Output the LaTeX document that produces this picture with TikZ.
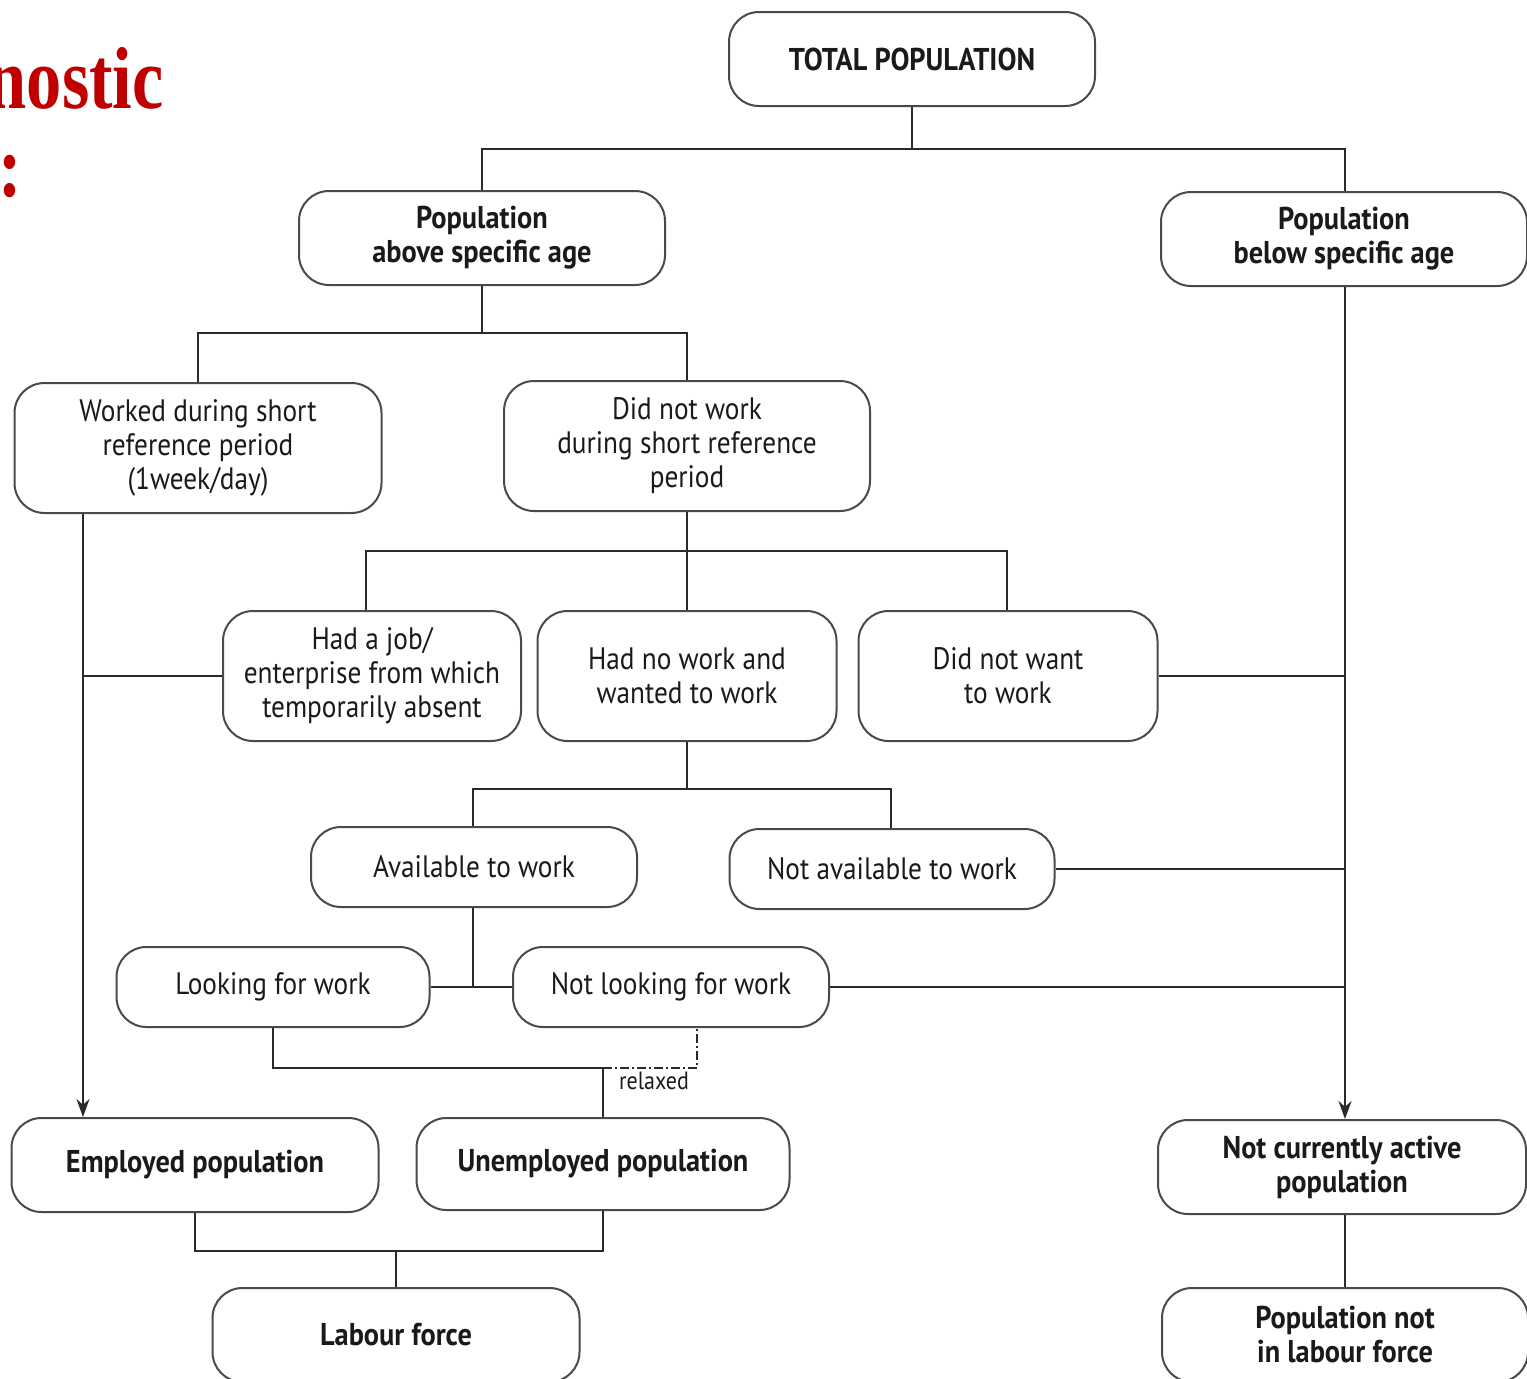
\documentclass[tikz,border=0pt]{standalone}
\usepackage{fontspec}
\setmainfont{PT Sans}[FakeStretch=0.88]
\newfontfamily\boldfam{PT Sans Bold}[FakeStretch=0.9]
\newfontfamily\redserif{Liberation Serif Bold}[FakeStretch=0.8]
\usetikzlibrary{arrows.meta}
\definecolor{boxline}{HTML}{4A4A4A}
\definecolor{conline}{HTML}{2A2A2A}
\definecolor{txt}{HTML}{1A1A1A}
\definecolor{titlered}{HTML}{C00000}
\begin{document}
\begin{tikzpicture}[x=1pt,y=-1pt,
  box/.style={draw=boxline, line width=2pt, rounded corners=30pt, align=center,
    inner sep=0pt, text=txt, font=\fontsize{31}{34}\selectfont, fill=white},
  boldbox/.style={box, font=\fontsize{31.5}{34}\boldfam},
  conn/.style={draw=conline, line width=2.2pt},
  arr/.style={conn, -{Stealth[length=18pt,width=13pt]}},
  relax/.style={draw=conline, line width=2pt, dash pattern=on 9pt off 3pt on 2pt off 3pt}]
\useasboundingbox (0,0) rectangle (1527,1379);
\clip (0,0) rectangle (1527,1379);

% red title fragment (cut off at the left edge, as in the reference)
\node[anchor=base east, text=titlered, inner sep=0pt, font=\fontsize{88}{96}\redserif] (t1) at (164,108) {nostic};
\node[anchor=base east, text=titlered, inner sep=0pt, font=\fontsize{88}{96}\redserif] (t2) at (22,196) {:};

% boxes
\node[boldbox, minimum width=366, minimum height=94] (total) at (912,59) {TOTAL POPULATION};
\node[boldbox, minimum width=366, minimum height=94] (popabove) at (482,238) {Population\\above specific age};
\node[boldbox, minimum width=366, minimum height=94] (popbelow) at (1344,239) {Population\\below specific age};
\node[box, minimum width=367, minimum height=130] (worked) at (198,448) {Worked during short\\reference period\\(1week/day)};
\node[box, minimum width=366, minimum height=130] (didnot) at (687,446) {Did not work\\during short reference\\period};
\node[box, minimum width=298, minimum height=130] (hadjob) at (372,676) {Had a job/\\enterprise from which\\temporarily absent};
\node[box, minimum width=299, minimum height=130] (hadnowork) at (687,676) {Had no work and\\wanted to work};
\node[box, minimum width=299, minimum height=130] (notwant) at (1008,676) {Did not want\\to work};
\node[box, minimum width=326, minimum height=80] (avail) at (474,867) {Available to work};
\node[box, minimum width=325, minimum height=80] (notavail) at (892,869) {Not available to work};
\node[box, minimum width=313, minimum height=80] (looking) at (273,987) {Looking for work};
\node[box, minimum width=316, minimum height=80] (notlooking) at (671,987) {Not looking for work};
\node[boldbox, minimum width=367, minimum height=94] (employed) at (195,1165) {Employed population};
\node[boldbox, minimum width=373, minimum height=92] (unemployed) at (603,1164) {Unemployed population};
\node[boldbox, minimum width=368, minimum height=94] (notactive) at (1342,1167) {Not currently active\\population};
\node[boldbox, minimum width=367, minimum height=94] (labour) at (396,1335) {Labour force};
\node[boldbox, minimum width=366, minimum height=94] (notinlf) at (1345,1335) {Population not\\in labour force};

% helper coordinates
\coordinate (b1) at (912,149);
\coordinate (b2) at (482,333);
\coordinate (b3) at (687,551);
\coordinate (b4) at (687,789);
\coordinate (xl) at (83,0);
\coordinate (xr) at (1345,0);
\coordinate (xd) at (697,0);
\coordinate (r) at (603,1068);
\coordinate (lb) at (396,1251);

% connectors
\draw[conn] (total.south) -- (b1);
\draw[conn] (popabove.north) |- (b1) -| (popbelow.north -| xr);
\draw[conn] (popabove.south) -- (b2);
\draw[conn] (worked.north) |- (b2) -| (didnot.north);
\draw[conn] (didnot.south) -- (b3);
\draw[conn] (hadjob.north -| 366,0) |- (b3) -| (notwant.north -| 1007,0);
\draw[conn] (b3) -- (hadnowork.north);
\draw[conn] (hadnowork.south) -- (b4);
\draw[conn] (avail.north -| 473,0) |- (b4) -| (notavail.north -| 891,0);
\draw[conn] (avail.south -| 473,0) -- (looking.east -| 473,0);
\draw[conn] (looking.east) -- (notlooking.west);
\draw[arr] (worked.south -| xl) -- (employed.north -| xl);
\draw[conn] (hadjob.west) -- (hadjob.west -| xl);
\draw[arr] (popbelow.south -| xr) -- (notactive.north -| xr);
\draw[conn] (notwant.east) -- (notwant.east -| xr);
\draw[conn] (notavail.east) -- (notavail.east -| xr);
\draw[conn] (notlooking.east) -- (notlooking.east -| xr);
\draw[conn] (looking.south) |- (r);
\draw[relax] (r) -| (notlooking.south -| xd);
\draw[conn] (r) -- (unemployed.north);
\node[anchor=north, inner sep=0pt, text=txt, font=\fontsize{25}{28}\selectfont] (relaxed) at (654,1072) {relaxed};
\draw[conn] (employed.south) |- (lb) -| (unemployed.south);
\draw[conn] (lb) -- (labour.north);
\draw[conn] (notactive.south -| xr) -- (notinlf.north -| xr);
\end{tikzpicture}
\end{document}
